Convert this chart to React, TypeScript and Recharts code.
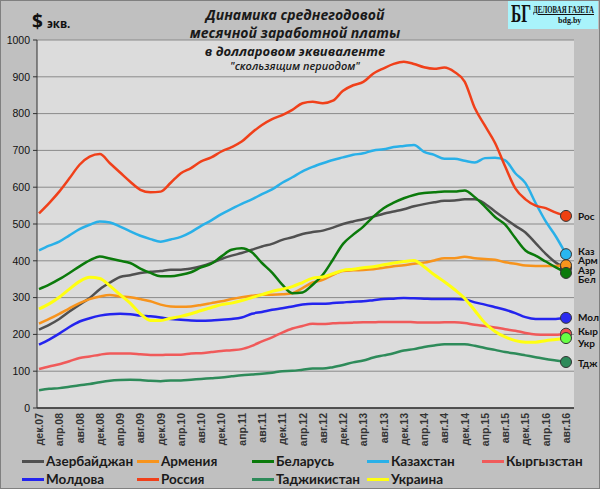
import React from "react";
import { LineChart, Line, XAxis, YAxis, CartesianGrid, Legend } from "recharts";

// bi-monthly points, Dec 2007 .. Aug 2016
const months = [
  "дек.07", "фев.08", "апр.08", "июн.08", "авг.08", "окт.08", "дек.08", "фев.09", "апр.09", "июн.09",
  "авг.09", "окт.09", "дек.09", "фев.10", "апр.10", "июн.10", "авг.10", "окт.10", "дек.10", "фев.11",
  "апр.11", "июн.11", "авг.11", "окт.11", "дек.11", "фев.12", "апр.12", "июн.12", "авг.12", "окт.12",
  "дек.12", "фев.13", "апр.13", "июн.13", "авг.13", "окт.13", "дек.13", "фев.14", "апр.14", "июн.14",
  "авг.14", "окт.14", "дек.14", "фев.15", "апр.15", "июн.15", "авг.15", "окт.15", "дек.15", "фев.16",
  "апр.16", "июн.16", "авг.16",
];

const azerbaijan = [
  213, 226, 242, 262, 281, 299, 323, 341, 356, 361, 367, 370, 372, 376,
  376, 379, 385, 394, 405, 414, 421, 430, 439, 446, 457, 464, 473, 478,
  482, 490, 500, 507, 513, 520, 528, 534, 540, 548, 554, 559, 563,
  564, 567, 567, 555, 534, 514, 495, 477, 448, 419, 395, 380,
];
const armenia = [
  229, 242, 256, 271, 285, 296, 303, 307, 303, 301, 296, 290, 281, 276,
  275, 276, 280, 285, 290, 296, 301, 305, 308, 308, 309, 312, 326, 341,
  348, 362, 372, 374, 375, 377, 381, 385, 388, 392, 395, 401, 407,
  407, 411, 407, 405, 403, 396, 392, 387, 386, 386, 386, 388,
];
const belarus = [
  323, 335, 350, 367, 385, 401, 412, 406, 400, 394, 379, 367, 358, 358,
  362, 369, 382, 392, 412, 430, 434, 423, 394, 368, 335, 312, 314, 335,
  362, 403, 446, 471, 493, 520, 543, 558, 570, 579, 584, 586, 588,
  588, 591, 573, 547, 519, 498, 462, 428, 414, 398, 382, 367,
];
const kazakhstan = [
  428, 441, 452, 469, 486, 498, 507, 504, 493, 480, 468, 459, 452, 458,
  465, 478, 495, 510, 527, 541, 555, 567, 581, 594, 612, 627, 643, 655,
  665, 674, 681, 688, 692, 700, 703, 709, 712, 715, 696, 688, 677,
  677, 672, 667, 679, 680, 673, 638, 611, 557, 507, 466, 418,
];
const kyrgyzstan = [
  106, 113, 119, 127, 136, 140, 145, 148, 148, 148, 146, 144, 144, 145,
  145, 148, 149, 152, 155, 157, 160, 169, 181, 192, 205, 216, 223, 229,
  228, 230, 231, 232, 233, 233, 234, 234, 234, 233, 232, 232, 233,
  233, 231, 226, 223, 219, 214, 210, 204, 200, 199, 199, 202,
];
const moldova = [
  172, 186, 202, 220, 235, 244, 251, 255, 256, 255, 251, 249, 246, 242,
  240, 238, 237, 238, 240, 242, 246, 256, 261, 267, 271, 276, 281, 283,
  283, 285, 287, 289, 290, 293, 296, 297, 299, 298, 297, 296, 296,
  296, 295, 287, 281, 274, 267, 258, 247, 242, 242, 242, 245,
];
const russia = [
  529, 557, 588, 624, 661, 683, 690, 665, 640, 615, 593, 586, 588, 612,
  638, 652, 670, 681, 697, 709, 724, 748, 769, 785, 796, 810, 828, 832,
  828, 835, 862, 877, 886, 909, 923, 935, 941, 935, 926, 922, 925,
  913, 887, 815, 767, 720, 656, 597, 567, 550, 543, 531, 522,
];
const tajikistan = [
  48, 52, 54, 58, 62, 65, 70, 74, 76, 77, 76, 74, 73, 75,
  75, 77, 79, 81, 83, 86, 89, 91, 93, 96, 100, 101, 104, 107,
  107, 111, 117, 124, 129, 137, 143, 149, 156, 160, 166, 170, 173,
  173, 173, 169, 163, 158, 152, 148, 143, 138, 133, 129, 125,
];
const ukraine = [
  269, 283, 301, 323, 344, 355, 352, 332, 308, 285, 256, 238, 238, 244,
  249, 256, 265, 273, 281, 285, 292, 300, 308, 317, 323, 330, 341, 353,
  356, 365, 374, 377, 381, 384, 389, 394, 398, 401, 384, 362, 343,
  322, 298, 265, 231, 208, 193, 183, 179, 179, 183, 186, 190,
];

const yTicks = [0, 100, 200, 300, 400, 500, 600, 700, 800, 900, 1000];

const series = [
  { name: "Азербайджан", short: "Азр", values: azerbaijan, color: "#505050", dot: "#505050", dy: 2 },
  { name: "Армения", short: "Арм", values: armenia, color: "#f7941d", dot: "#f7941d", dy: -4.5 },
  { name: "Беларусь", short: "Бел", values: belarus, color: "#0b7a0b", dot: "#0b7a0b", dy: 7 },
  { name: "Казахстан", short: "Каз", values: kazakhstan, color: "#29b0e8", dot: "#29b6f0", dy: -3 },
  { name: "Кыргызстан", short: "Кыр", values: kyrgyzstan, color: "#f05a5a", dot: "#f05050", dy: -2 },
  { name: "Молдова", short: "Мол", values: moldova, color: "#2424ee", dot: "#2a2af0", dy: 0 },
  { name: "Россия", short: "Рос", values: russia, color: "#f0401a", dot: "#f04010", dy: 1 },
  { name: "Таджикистан", short: "Тдж", values: tajikistan, color: "#2e8b5a", dot: "#2e8b5a", dy: 1 },
  { name: "Украина", short: "Укр", values: ukraine, color: "#ffff10", dot: "#66ff44", dy: 5 },
];

const data = months.map((m, i) => {
  const row: Record<string, any> = { month: m };
  series.forEach((s) => (row[s.name] = s.values[i]));
  return row;
});

const last = months.length - 1;

const MonthTick = (props: any) => {
  const { x, y, payload } = props;
  return (
    <text
      x={x}
      y={y}
      dx={-5}
      dy={4}
      transform={`rotate(-90, ${x}, ${y})`}
      textAnchor="end"
      fontSize={10.5}
      fontWeight="bold"
      fontFamily="'Liberation Sans', Arial, sans-serif"
      fill="#333"
    >
      {payload.value}
    </text>
  );
};

const endDot = (s: typeof series[number]) => (p: any) => {
  if (p.index !== last) return <g key={`${s.short}-${p.index}`} />;
  return (
    <g key={`${s.short}-end`}>
      <circle cx={p.cx} cy={p.cy} r={5.5} fill={s.dot} stroke="#333" strokeWidth={1} />
      <text
        x={p.cx + 12}
        y={p.cy + s.dy + 3.5}
        fontSize={10}
        fontWeight="bold"
        fontFamily="Lato, 'Open Sans', sans-serif"
        fill="#111"
      >
        {s.short}
      </text>
    </g>
  );
};

const legendRows = [series.slice(0, 5), series.slice(5)];

const renderLegend = () => (
  <div style={{ position: "relative", width: 600, height: 40 }}>
    {legendRows.map((row, r) =>
      row.map((s, c) => (
        <div
          key={s.name}
          style={{
            position: "absolute",
            left: 22 + c * 115,
            top: r * 18,
            display: "flex",
            alignItems: "center",
            height: 18,
            fontFamily: "Lato, 'Open Sans', sans-serif",
            fontWeight: 700,
            fontSize: 13.5,
            color: "#1a1a1a",
            whiteSpace: "nowrap",
          }}
        >
          <span style={{ display: "inline-block", width: 22, height: 3, background: s.color, marginRight: 2 }} />
          {s.name}
        </div>
      ))
    )}
  </div>
);

const titleStyle: React.CSSProperties = {
  position: "absolute",
  left: 0,
  width: 590,
  textAlign: "center",
  fontFamily: "'Open Sans', sans-serif",
  fontStyle: "italic",
  fontWeight: 700,
  color: "#1a1a1a",
  whiteSpace: "nowrap",
};

export default function App() {
  return (
    <div
      style={{
        position: "absolute",
        left: 0,
        top: 0,
        width: 600,
        height: 489,
        background: "#c0c0c0",
        overflow: "hidden",
      }}
    >
      <LineChart
        width={600}
        height={489}
        data={data}
        margin={{ top: 40, right: 26, bottom: 32, left: 0 }}
      >
        <CartesianGrid vertical={false} stroke="#8a8a8a" fill="#dcdcdc" strokeWidth={1} />
        <XAxis
          dataKey="month"
          interval={1}
          height={49}
          tick={<MonthTick />}
          tickLine={false}
          tickSize={0}
          tickMargin={0}
          axisLine={{ stroke: "#303030", strokeWidth: 1.5 }}
          padding={{ left: 2, right: 8 }}
        />
        <YAxis
          domain={[0, 1000]}
          ticks={yTicks}
          width={37}
          tickSize={4}
          tickMargin={3}
          tickLine={{ stroke: "#303030" }}
          axisLine={{ stroke: "#303030" }}
          tick={{ fill: "#111", fontSize: 10.5, fontFamily: "'Liberation Sans', Arial, sans-serif" }}
          interval={0}
        />
        <Legend
          verticalAlign="middle"
          align="center"
          layout="horizontal"
          content={renderLegend}
          wrapperStyle={{ top: 452, left: 0, width: 600, height: 40 }}
        />
        {series.map((s) => (
          <Line
            key={s.name}
            type="monotone"
            dataKey={s.name}
            stroke={s.color}
            strokeWidth={s.name === "Украина" ? 3 : 2.5}
            dot={endDot(s)}
            activeDot={false}
            isAnimationActive={false}
          />
        ))}
      </LineChart>

      <div style={{ ...titleStyle, top: 5, fontSize: 14 }}>Динамика среднегодовой</div>
      <div style={{ ...titleStyle, top: 23, fontSize: 14 }}>месячной заработной платы</div>
      <div style={{ ...titleStyle, top: 42, fontSize: 13 }}>в долларовом эквиваленте</div>
      <div style={{ ...titleStyle, top: 58, fontSize: 11, fontWeight: 600 }}>"скользящим периодом"</div>

      <div
        style={{
          position: "absolute",
          left: 32,
          top: 8,
          fontFamily: "'Open Sans', sans-serif",
          fontWeight: 700,
          color: "#111",
          whiteSpace: "nowrap",
        }}
      >
        <span style={{ fontSize: 19 }}>$</span>
        <span style={{ fontSize: 11.5, marginLeft: 4 }}>экв.</span>
      </div>

      <div
        style={{
          position: "absolute",
          left: 508,
          top: 0,
          width: 90,
          height: 29,
          background: "#a9f3fb",
          fontFamily: "'Liberation Serif', serif",
          color: "#111",
          overflow: "hidden",
        }}
      >
        <div
          style={{
            position: "absolute",
            left: 3,
            top: 1,
            fontSize: 25,
            fontWeight: 700,
            lineHeight: "26px",
            transform: "scaleX(0.62)",
            transformOrigin: "left",
          }}
        >
          БГ
        </div>
        <div
          style={{
            position: "absolute",
            left: 25,
            top: 5,
            fontSize: 9.5,
            fontWeight: 700,
            textDecoration: "underline",
            whiteSpace: "nowrap",
            transform: "scaleX(0.72)",
            transformOrigin: "left",
          }}
        >
          ДЕЛОВАЯ ГАЗЕТА
        </div>
        <div style={{ position: "absolute", left: 50, top: 16, fontSize: 8, fontWeight: 700 }}>bdg.by</div>
      </div>

      <div
        style={{
          position: "absolute",
          left: 0,
          top: 0,
          width: 600,
          height: 489,
          boxSizing: "border-box",
          border: "1px solid #808080",
          pointerEvents: "none",
        }}
      />
    </div>
  );
}
